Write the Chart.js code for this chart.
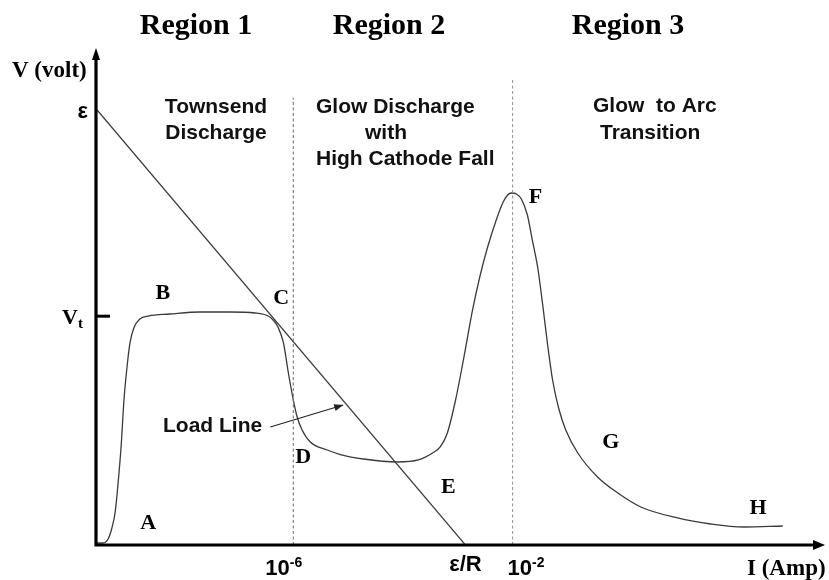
<!DOCTYPE html>
<html>
<head>
<meta charset="utf-8">
<script src="https://cdn.jsdelivr.net/npm/chart.js@4/dist/chart.umd.min.js"></script>
<style>
  html, body { margin: 0; padding: 0; background: #ffffff; }
  #wrap { width: 829px; height: 580px; }
</style>
</head>
<body>
<div id="wrap"><canvas id="c" width="829" height="580"></canvas></div>
<script>
// ---- Data (x = log10 of current in A, y = voltage in arbitrary units, ε = 100) ----
const curveLogI = [-9.60, -9.47, -9.38, -9.31, -9.25, -9.20, -9.14, -9.09, -9.03, -8.98,
  -8.91, -8.80, -8.65, -8.25, -7.70, -7.15, -6.70, -6.46, -6.37, -6.28,
  -6.18, -6.09, -6.00, -5.93, -5.84, -5.69, -5.38, -5.14, -4.72, -4.10,
  -3.72, -3.46, -3.32, -3.19, -3.04, -2.88, -2.73, -2.59, -2.46, -2.31,
  -2.18, -2.09, -2.02, -1.93, -1.84, -1.73, -1.64, -1.54, -1.45, -1.36,
  -1.27, -1.16, -1.03, -0.81, -0.45, -0.08, 0.34, 1.01, 1.62, 2.22, 2.93];
const curveV = [0.46, 0.46, 1.38, 3.91, 7.59, 13.79, 22.99, 33.33, 41.38, 46.44,
  49.89, 51.95, 52.64, 53.10, 53.56, 53.56, 53.33, 52.64, 51.73, 50.12,
  46.44, 39.54, 33.33, 29.43, 26.44, 23.68, 21.84, 20.80, 19.77, 19.08,
  19.54, 21.15, 22.53, 25.75, 33.33, 43.68, 54.03, 62.07, 68.28, 74.26,
  78.62, 80.46, 80.92, 80.69, 79.54, 75.86, 70.12, 63.68, 55.17, 45.98,
  37.93, 31.50, 26.44, 21.15, 15.63, 11.95, 8.74, 6.21, 4.83, 4.14, 4.37];

const sourceEMF = 100;        // ε
const thresholdV = 52.6;      // V_t
const loadLineLogI = [-9.58, -2.86];   // from I≈0 to ε/R
const loadLineV = [sourceEMF, 0];
const regionBoundsLogI = [-6, -2];     // 10^-6 and 10^-2
const regionBoundsTop = [102.8, 107.4];

const xTickLabels = [
  { logI: -6, base: '10', sup: '-6' },
  { logI: -2.86, text: 'ε/R' },
  { logI: -2, base: '10', sup: '-2' }
];
const headerLabels = ['Region 1', 'Region 2', 'Region 3'];
const pointLetters = ['A', 'B', 'C', 'D', 'E', 'F', 'G', 'H'];
const pointLetterLogI = [-8.65, -8.38, -6.22, -5.82, -3.17, -1.58, -0.21, 2.48];
const pointLetterV = [5.06, 57.93, 56.78, 20.23, 13.33, 80.0, 23.68, 8.51];
const loadArrowLogI = [-6.42, -5.09];
const loadArrowV = [27.13, 32.18];

// ---- Build datasets ----
const curvePts = curveLogI.map((x, i) => ({ x: x, y: curveV[i] }));
const loadPts = loadLineLogI.map((x, i) => ({ x: x, y: loadLineV[i] }));
const boundColors = ['#777', '#999'];
const boundSets = regionBoundsLogI.map((x, i) => ({
  data: [{ x: x, y: 0 }, { x: x, y: regionBoundsTop[i] }],
  showLine: true, borderColor: boundColors[i], borderWidth: 1.1, borderDash: [3, 2.5], pointRadius: 0
}));

const SANS = '"Liberation Sans", Arial, sans-serif';
const SERIF = '"Liberation Serif", "Times New Roman", serif';

const overlay = {
  id: 'overlay',
  afterDatasetsDraw(chart) {
    const ctx = chart.ctx;
    const xs = chart.scales.x, ys = chart.scales.y;
    const ca = chart.chartArea;
    const X = v => xs.getPixelForValue(v);
    const Y = v => ys.getPixelForValue(v);
    ctx.save();
    ctx.fillStyle = '#000';
    ctx.strokeStyle = '#000';

    // axes
    const ox = X(xs.min), oy = Y(0);
    ctx.lineWidth = 3.2;
    ctx.beginPath();
    ctx.moveTo(ox, oy + 1.5); ctx.lineTo(ox, ca.top + 8);
    ctx.moveTo(ox - 1.5, oy); ctx.lineTo(ca.right - 8, oy);
    ctx.stroke();
    // arrowheads
    ctx.beginPath();
    ctx.moveTo(ox, ca.top); ctx.lineTo(ox - 4, ca.top + 12); ctx.lineTo(ox + 4, ca.top + 12); ctx.closePath();
    ctx.fill();
    ctx.beginPath();
    ctx.moveTo(ca.right, oy); ctx.lineTo(ca.right - 12, oy - 5); ctx.lineTo(ca.right - 12, oy + 5); ctx.closePath();
    ctx.fill();
    // V_t tick
    ctx.lineWidth = 3;
    ctx.beginPath();
    ctx.moveTo(ox, Y(thresholdV)); ctx.lineTo(ox + 14, Y(thresholdV));
    ctx.stroke();

    // y tick labels
    ctx.textBaseline = 'alphabetic';
    ctx.textAlign = 'right';
    ctx.font = 'bold 22px ' + SANS;
    ctx.fillText('ε', ox - 8, Y(sourceEMF) + 8);
    ctx.textAlign = 'left';
    ctx.font = 'bold 22px ' + SERIF;
    ctx.fillText('V', ox - 34, Y(thresholdV) + 8);
    ctx.font = 'bold 15px ' + SERIF;
    ctx.fillText('t', ox - 18, Y(thresholdV) + 12);

    // x tick labels
    xTickLabels.forEach(t => {
      const px = X(t.logI);
      if (t.text) {
        ctx.textAlign = 'center';
        ctx.font = 'bold 22px ' + SANS;
        ctx.fillText(t.text, px, oy + 26);
      } else {
        ctx.textAlign = 'left';
        const left = t.sup === '-6' ? px - 28 : px - 5;
        ctx.font = 'bold 22px ' + SANS;
        ctx.fillText(t.base, left, oy + 30);
        const w = ctx.measureText(t.base).width;
        ctx.font = 'bold 14px ' + SANS;
        ctx.fillText(t.sup, left + w, oy + 22);
      }
    });

    // axis titles
    ctx.textAlign = 'left';
    ctx.font = 'bold 23px ' + SERIF;
    ctx.fillText('V (volt)', 12, 77);
    ctx.fillText('I (Amp)', 747, 575);

    // region headers
    ctx.textAlign = 'center';
    ctx.font = 'bold 30px ' + SERIF;
    const hx = [196, 389, 628];
    headerLabels.forEach((h, i) => ctx.fillText(h, hx[i], 34));

    // region descriptions
    ctx.fillStyle = '#111';
    ctx.font = 'bold 21px ' + SANS;
    ctx.textAlign = 'center';
    ctx.fillText('Townsend', 216, 113);
    ctx.fillText('Discharge', 216, 139);
    ctx.textAlign = 'left';
    ctx.fillText('Glow Discharge', 316, 113);
    ctx.fillText('with', 365, 139);
    ctx.fillText('High Cathode Fall', 316, 165);
    ctx.fillText('Glow  to Arc', 593, 112);
    ctx.fillText('Transition', 600, 139);
    ctx.fillText('Load Line', 163, 432);

    // load line pointer arrow
    const ax0 = X(loadArrowLogI[0]), ay0 = Y(loadArrowV[0]);
    const ax1 = X(loadArrowLogI[1]), ay1 = Y(loadArrowV[1]);
    ctx.strokeStyle = '#222';
    ctx.lineWidth = 1.2;
    ctx.beginPath(); ctx.moveTo(ax0, ay0); ctx.lineTo(ax1, ay1); ctx.stroke();
    const ang = Math.atan2(ay1 - ay0, ax1 - ax0);
    ctx.fillStyle = '#222';
    ctx.beginPath();
    ctx.moveTo(ax1, ay1);
    ctx.lineTo(ax1 - 9 * Math.cos(ang) + 3.5 * Math.sin(ang), ay1 - 9 * Math.sin(ang) - 3.5 * Math.cos(ang));
    ctx.lineTo(ax1 - 9 * Math.cos(ang) - 3.5 * Math.sin(ang), ay1 - 9 * Math.sin(ang) + 3.5 * Math.cos(ang));
    ctx.closePath(); ctx.fill();

    // point letters
    ctx.fillStyle = '#000';
    ctx.textAlign = 'center';
    ctx.textBaseline = 'middle';
    ctx.font = 'bold 22px ' + SERIF;
    pointLetters.forEach((l, i) => ctx.fillText(l, X(pointLetterLogI[i]), Y(pointLetterV[i])));
    ctx.restore();
  }
};

new Chart(document.getElementById('c'), {
  type: 'scatter',
  data: {
    datasets: [
      ...boundSets,
      { data: loadPts, showLine: true, borderColor: '#3c3c3c', borderWidth: 1.2, pointRadius: 0 },
      { data: curvePts, showLine: true, borderColor: '#3a3a3a', borderWidth: 1.3, pointRadius: 0,
        cubicInterpolationMode: 'monotone' }
    ]
  },
  options: {
    responsive: false,
    animation: false,
    devicePixelRatio: 1,
    layout: { padding: { left: 96, right: 4, top: 48, bottom: 35 } },
    scales: {
      x: { type: 'linear', min: -9.6, max: 3.7, display: false },
      y: { type: 'linear', min: 0, max: 114.25, display: false }
    },
    plugins: { legend: { display: false }, tooltip: { enabled: false } }
  },
  plugins: [overlay]
});
</script>
</body>
</html>
